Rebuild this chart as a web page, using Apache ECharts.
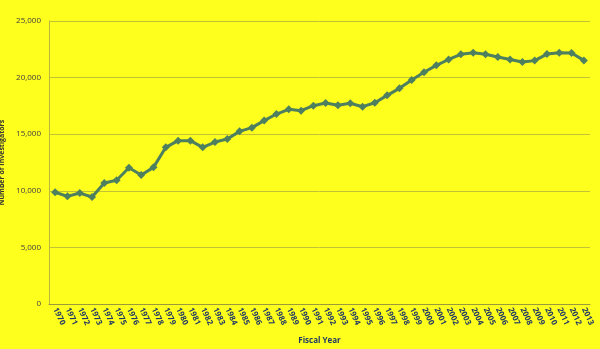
<!DOCTYPE html>
<html><head><meta charset="utf-8">
<script src="https://cdn.jsdelivr.net/npm/echarts@6/dist/echarts.min.js"></script>
<style>html,body{margin:0;padding:0;background:#ffff1e}#c{width:600px;height:349px}</style>
</head><body><div id="c"></div>
<script>
const years = ['1970','1971','1972','1973','1974','1975','1976','1977','1978','1979','1980','1981','1982','1983','1984','1985','1986','1987','1988','1989','1990','1991','1992','1993','1994','1995','1996','1997','1998','1999','2000','2001','2002','2003','2004','2005','2006','2007','2008','2009','2010','2011','2012','2013'];
const investigators = [9870,9510,9800,9450,10690,10930,12040,11400,12070,13840,14430,14430,13840,14310,14580,15250,15580,16200,16780,17200,17080,17520,17760,17550,17730,17430,17780,18430,19050,19790,20470,21080,21600,22060,22200,22060,21820,21600,21380,21500,22080,22200,22170,21520];
const yTicks = [0,5000,10000,15000,20000,25000];

const chart = echarts.init(document.getElementById('c'));
chart.setOption({
  backgroundColor:'#ffff1e',
  animation:false,
  grid:{left:49,right:10,top:21,bottom:45,containLabel:false,outerBoundsMode:'none'},
  xAxis:{
    type:'category', data:years, boundaryGap:true,
    name:'Fiscal Year', nameLocation:'middle', nameGap:33,
    nameTextStyle:{fontFamily:'Open Sans',fontSize:8,fontWeight:'bold',color:'#1f3864'},
    axisLine:{lineStyle:{color:'#9a9a3a',width:1}},
    axisTick:{show:false},
    axisLabel:{interval:0,rotate:-65,fontFamily:'Open Sans',fontSize:8,fontWeight:'bold',color:'#1f3864',margin:4}
  },
  yAxis:{
    type:'value', min:0, max:25000, interval:5000,
    name:'Number of Investigators', nameLocation:'middle', nameGap:38,
    nameTextStyle:{fontFamily:'Open Sans',fontSize:7,fontWeight:'bold',color:'#333333'},
    axisLine:{show:true,lineStyle:{color:'#b8b840'}},
    axisTick:{show:false},
    axisLabel:{fontFamily:'Open Sans',fontSize:8,color:'#404040',margin:8,
      formatter:v=>yTicks.includes(v)?v.toLocaleString('en-US'):''},
    splitLine:{lineStyle:{color:'#c2c236',width:1}}
  },
  series:[{
    type:'line', data:investigators,
    symbol:'diamond', symbolSize:8,
    lineStyle:{color:'#4e7f5e',width:3},
    itemStyle:{color:'#4e7f5e'}
  }]
});
</script></body></html>
